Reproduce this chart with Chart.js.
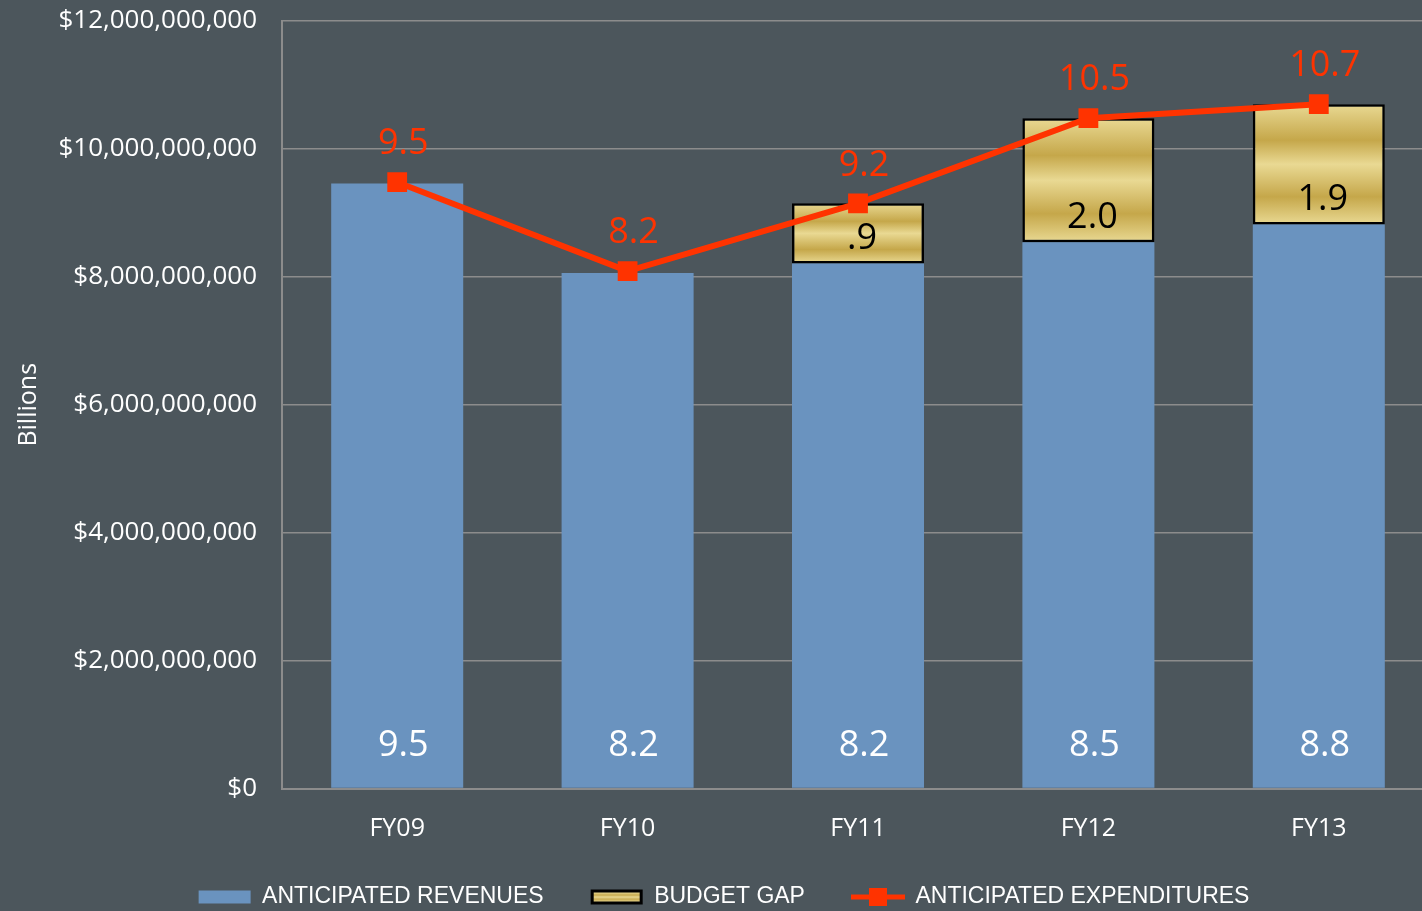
<!DOCTYPE html>
<html>
<head>
<meta charset="utf-8">
<script src="https://cdn.jsdelivr.net/npm/chart.js@4/dist/chart.umd.min.js"></script>
<style>
  html { overflow: hidden; }
  html, body { margin: 0; padding: 0; background: #4c565c; }
  #wrap { width: 1434px; height: 918px; }
  #budgetChart { width: 1434px; height: 918px; display: block; }
</style>
</head>
<body>
<div id="wrap">
  <canvas id="budgetChart" width="1434" height="918"></canvas>
</div>
<script>
// categories and values (dollars)
const years = ['FY09', 'FY10', 'FY11', 'FY12', 'FY13'];
const revenues = [9.46e9, 8.06e9, 8.21e9, 8.54e9, 8.82e9];
const budgetGap = [null, null, 0.94e9, 1.94e9, 1.88e9];
const expenditures = [9.48e9, 8.09e9, 9.15e9, 10.48e9, 10.70e9];

// labels printed on the chart (billions)
const revenueLabels = ['9.5', '8.2', '8.2', '8.5', '8.8'];
const gapLabels = ['', '', '.9', '2.0', '1.9'];
const expenditureLabels = ['9.5', '8.2', '9.2', '10.5', '10.7'];

const yTicks = [0, 2e9, 4e9, 6e9, 8e9, 10e9, 12e9];

const BLUE = '#6a93bf';
const RED = '#ff3300';
const GOLD_LIGHT = '#e9d993';
const GOLD_DARK = '#c5a74a';
const GRID = '#8c8c8c';

function goldGradient(ctx, top, bottom) {
    const g = ctx.createLinearGradient(0, top, 0, bottom);
    g.addColorStop(0, GOLD_LIGHT);
    g.addColorStop(0.3, GOLD_DARK);
    g.addColorStop(0.5, GOLD_LIGHT);
    g.addColorStop(0.77, GOLD_DARK);
    g.addColorStop(1, GOLD_LIGHT);
    return g;
}

// little canvases used as legend symbols
function legendSymbol(kind) {
    const c = document.createElement('canvas');
    c.width = 56; c.height = 18;
    const x = c.getContext('2d');
    if (kind === 'rev') {
        x.fillStyle = BLUE;
        x.fillRect(2, 3, 52, 13);
    } else if (kind === 'gap') {
        x.fillStyle = '#000';
        x.fillRect(2, 2, 52, 15);
        x.fillStyle = goldGradient(x, 5, 14);
        x.fillRect(5, 5, 46, 9);
    } else {
        x.fillStyle = RED;
        x.fillRect(1, 7, 54, 5);
        x.fillRect(19, 0, 18, 18);
    }
    return c;
}

// draws the value labels on bars and points
const valueLabels = {
    id: 'valueLabels',
    afterDatasetsDraw(chart) {
        const ctx = chart.ctx;
        const y = chart.scales.y;
        const metaRev = chart.getDatasetMeta(0);
        ctx.save();
        ctx.font = '36px "Open Sans"';
        ctx.textAlign = 'center';
        ctx.textBaseline = 'middle';
        years.forEach((yr, i) => {
            const cx = metaRev.data[i].x + 6;
            ctx.fillStyle = '#ffffff';
            ctx.fillText(revenueLabels[i], cx, y.getPixelForValue(0) - 43);
            if (gapLabels[i]) {
                ctx.fillStyle = '#000000';
                ctx.fillText(gapLabels[i], cx - 2, y.getPixelForValue(revenues[i]) - 25);
            }
            ctx.fillStyle = RED;
            ctx.fillText(expenditureLabels[i], cx, y.getPixelForValue(expenditures[i]) - 38);
        });
        ctx.restore();
    }
};

const ctx = document.getElementById('budgetChart').getContext('2d');

new Chart(ctx, {
    data: {
        labels: years,
        datasets: [
            {
                type: 'bar',
                label: 'ANTICIPATED REVENUES',
                data: revenues,
                backgroundColor: BLUE,
                borderWidth: 0,
                order: 2,
                pointStyle: legendSymbol('rev')
            },
            {
                type: 'bar',
                label: 'BUDGET GAP',
                data: budgetGap,
                backgroundColor: function(c) {
                    const chart = c.chart;
                    if (!chart.chartArea || c.dataIndex === undefined || budgetGap[c.dataIndex] == null) return GOLD_LIGHT;
                    const y = chart.scales.y;
                    const i = c.dataIndex;
                    return goldGradient(chart.ctx,
                        y.getPixelForValue(revenues[i] + budgetGap[i]),
                        y.getPixelForValue(revenues[i]));
                },
                borderColor: '#000000',
                borderWidth: 2.5,
                borderSkipped: false,
                order: 2,
                pointStyle: legendSymbol('gap')
            },
            {
                type: 'line',
                label: 'ANTICIPATED EXPENDITURES',
                data: expenditures,
                borderColor: RED,
                backgroundColor: RED,
                borderWidth: 6,
                pointStyle: 'rect',
                pointRadius: 14,
                pointBorderWidth: 0,
                order: 1
            }
        ]
    },
    options: {
        responsive: false,
        animation: false,
        layout: {
            autoPadding: false,
            padding: { top: 21, left: 14, right: 0, bottom: 0 }
        },
        datasets: {
            bar: {
                barPercentage: 1,
                categoryPercentage: 0.573
            }
        },
        plugins: {
            legend: {
                position: 'bottom',
                labels: {
                    usePointStyle: true,
                    pointStyleWidth: 52,
                    color: '#ffffff',
                    padding: 47,
                    font: { family: '"Liberation Sans"', size: 23 },
                    generateLabels: function(chart) {
                        return chart.data.datasets.map((ds, i) => ({
                            text: ds.label,
                            pointStyle: i === 2 ? legendSymbol('exp') : ds.pointStyle,
                            fillStyle: 'transparent',
                            strokeStyle: 'transparent',
                            lineWidth: 0,
                            fontColor: '#ffffff',
                            datasetIndex: i
                        }));
                    }
                }
            },
            tooltip: { enabled: false }
        },
        scales: {
            x: {
                stacked: true,
                grid: { display: false, drawTicks: false },
                border: { color: GRID, width: 2 },
                ticks: {
                    color: '#ffffff',
                    padding: 25,
                    font: { family: '"Open Sans"', size: 25 }
                },
                afterFit: function(scale) {
                    scale.height = 49.5;
                    scale.paddingLeft = 0;
                    scale.paddingRight = 0;
                }
            },
            y: {
                stacked: true,
                min: 0,
                max: 12e9,
                afterBuildTicks: function(scale) {
                    scale.ticks = yTicks.map(v => ({ value: v }));
                },
                grid: { color: GRID, lineWidth: 1.5, drawTicks: false },
                border: { color: GRID, width: 2 },
                ticks: {
                    color: '#ffffff',
                    padding: 25,
                    font: { family: '"Open Sans"', size: 26 },
                    callback: function(v) { return '$' + v.toLocaleString('en-US'); }
                },
                title: {
                    display: true,
                    text: 'Billions',
                    color: '#ffffff',
                    padding: { top: 0, bottom: 0 },
                    font: { family: '"Open Sans"', size: 25 }
                },
                afterFit: function(scale) {
                    scale.width = 268;
                    scale.paddingTop = 0;
                    scale.paddingBottom = 0;
                }
            }
        }
    },
    plugins: [valueLabels]
});
</script>
</body>
</html>
